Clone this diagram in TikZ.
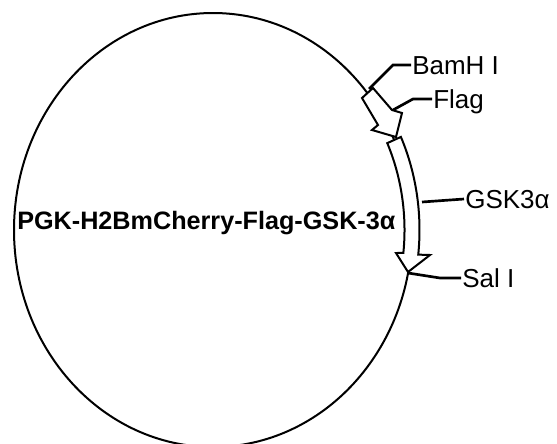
\documentclass[tikz,border=0pt]{standalone}
\usepackage{fontspec}
\setmainfont{Liberation Sans}
\usepackage{tikz}

\tikzset{
    sitelabel/.style={anchor=west, inner sep=0.75pt, font=\fontsize{19.5}{22}\selectfont, text height=14pt, text depth=0pt},
    genebox/.style={draw, line width=1.5pt, fill=white},
    leader/.style={line width=2pt},
}

\begin{document}
\begin{tikzpicture}[x=0.75pt,y=0.75pt,yscale=-1,xscale=1]
    \clip (0,0) rectangle (557,443);

    %Ellipse [plasmid backbone]
    \draw [line width=1.5pt] (213,230) ellipse [x radius=199, y radius=217];

    %Sites on the backbone
    \coordinate (bamhSite) at (369,89);
    \coordinate (flagSite) at (393,110);
    \coordinate (gskSite) at (422,202);
    \coordinate (salSite) at (408,273);

    % Text Node
    \node [anchor=base west, inner sep=0.75pt, font=\fontsize{18.9}{22}\selectfont\bfseries] (plasmid) at (16,229) {PGK-H2BmCherry-Flag-GSK-3α};
    % Text Node
    \node [sitelabel] (bamh) at (411,65) {BamH I};
    % Text Node
    \node [sitelabel] (flag) at (432,99) {Flag};
    % Text Node
    \node [sitelabel] (gsk) at (464,199) {GSK3α};
    % Text Node
    \node [sitelabel] (sal) at (461,278) {Sal I};

    %Straight Lines [leaders]
    \draw [leader] (bamhSite) -- ++(24,-24) -- (bamh.west);
    \draw [leader] (flagSite) -- ++(20,-11) -- (flag.west);
    \draw [leader] (gskSite) -- (gsk.west);
    \draw [leader] (salSite) -- ++(32,5) -- (sal.west);

    %Arrow [Flag]
    \draw [genebox] (362,98) -- (373,88) -- (392,110) -- (402,113) -- (396,137) -- (372,130) -- (378,125) -- cycle ;
    %Arrow [GSK3a]
    \draw [genebox] (387.27,143.12) arc [start angle=-24.5, end angle=6.3, x radius=191.5, y radius=209.5] -- (396,253) -- (408,272) -- (430,255) -- (418.25,254.63) arc [start angle=6.3, end angle=-24.5, x radius=206.5, y radius=224.5] -- cycle ;
\end{tikzpicture}
\end{document}
